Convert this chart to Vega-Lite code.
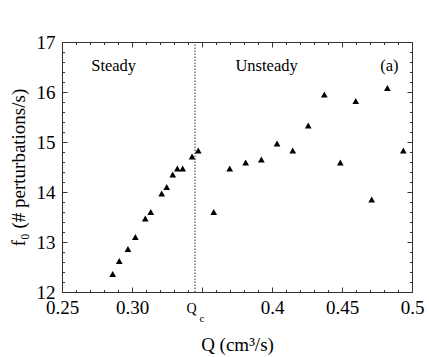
{
  "$schema": "https://vega.github.io/schema/vega-lite/v6.json",
  "width": 350,
  "height": 250,
  "autosize": {"type": "none"},
  "padding": {"left": 62, "top": 42, "right": 17, "bottom": 65},
  "background": "white",
  "config": {
    "view": {"stroke": "#333", "strokeWidth": 1},
    "font": "Liberation Serif",
    "axis": {
      "domain": false,
      "grid": false,
      "tickColor": "#333",
      "labelFont": "Liberation Serif",
      "titleFont": "Liberation Serif",
      "labelColor": "black",
      "titleColor": "black",
      "labelFontSize": 19,
      "titleFontSize": 19,
      "titleFontWeight": "normal"
    }
  },
  "datasets": {
    "points": [
      {"Q": 0.2862, "f": 12.36},
      {"Q": 0.2909, "f": 12.62},
      {"Q": 0.2971, "f": 12.86},
      {"Q": 0.3024, "f": 13.10},
      {"Q": 0.3095, "f": 13.47},
      {"Q": 0.3134, "f": 13.60},
      {"Q": 0.3212, "f": 13.97},
      {"Q": 0.3248, "f": 14.10},
      {"Q": 0.3291, "f": 14.35},
      {"Q": 0.3324, "f": 14.47},
      {"Q": 0.3362, "f": 14.47},
      {"Q": 0.3429, "f": 14.71},
      {"Q": 0.3473, "f": 14.83},
      {"Q": 0.3584, "f": 13.60},
      {"Q": 0.3698, "f": 14.47},
      {"Q": 0.3812, "f": 14.59},
      {"Q": 0.3924, "f": 14.65},
      {"Q": 0.4036, "f": 14.97},
      {"Q": 0.4148, "f": 14.83},
      {"Q": 0.4259, "f": 15.33},
      {"Q": 0.4374, "f": 15.95},
      {"Q": 0.4488, "f": 14.59},
      {"Q": 0.4598, "f": 15.82},
      {"Q": 0.4712, "f": 13.85},
      {"Q": 0.4824, "f": 16.08},
      {"Q": 0.4938, "f": 14.83}
    ],
    "notes": [
      {"Q": 0.2869, "f": 16.53, "t": "Steady"},
      {"Q": 0.3961, "f": 16.53, "t": "Unsteady"},
      {"Q": 0.4839, "f": 16.53, "t": "(a)"}
    ],
    "qc": [{"Q": 0.345, "f0": 12, "f1": 17}],
    "qlabel": [{"Q": 0.3426, "f": 12, "t": "Q"}],
    "clabel": [{"Q": 0.3500, "f": 12, "t": "c"}]
  },
  "layer": [
    {
      "data": {"name": "points"},
      "mark": {"type": "point", "shape": "triangle-up", "filled": true, "color": "black", "size": 45, "opacity": 1},
      "encoding": {
        "x": {
          "field": "Q", "type": "quantitative",
          "scale": {"domain": [0.25, 0.5], "nice": false, "zero": false},
          "axis": {
            "orient": "bottom",
            "values": [0.25, 0.3, 0.35, 0.4, 0.45, 0.5],
            "tickSize": -5,
            "labelPadding": 11,
            "labelExpr": "datum.value == 0.25 ? '0.25' : datum.value == 0.3 ? '0.30' : datum.value == 0.4 ? '0.4' : datum.value == 0.45 ? '0.45' : datum.value == 0.5 ? '0.5' : ''",
            "labelFlush": false,
            "labelOverlap": false,
            "title": "Q (cm³/s)",
            "titlePadding": 18
          }
        },
        "y": {
          "field": "f", "type": "quantitative",
          "scale": {"domain": [12, 17], "nice": false, "zero": false},
          "axis": {
            "orient": "left",
            "values": [12, 13, 14, 15, 16, 17],
            "tickSize": -5,
            "labelPadding": 12,
            "labelFlush": false,
            "labelOverlap": false,
            "title": "f₀ (# perturbations/s)",
            "titlePadding": 8
          }
        }
      }
    },
    {
      "data": {"name": "notes"},
      "mark": {"type": "text", "fontSize": 16.5, "font": "Liberation Serif", "color": "black", "baseline": "middle", "align": "center"},
      "encoding": {
        "x": {
          "field": "Q", "type": "quantitative",
          "scale": {"domain": [0.25, 0.5], "nice": false, "zero": false},
          "axis": {"orient": "top", "values": [0.25, 0.3, 0.35, 0.4, 0.45, 0.5], "tickSize": -5, "labels": false, "title": null}
        },
        "y": {
          "field": "f", "type": "quantitative",
          "scale": {"domain": [12, 17], "nice": false, "zero": false},
          "axis": {"orient": "right", "values": [12, 13, 14, 15, 16, 17], "tickSize": -5, "labels": false, "title": null}
        },
        "text": {"field": "t"}
      }
    },
    {
      "data": {"name": "qlabel"},
      "mark": {"type": "text", "fontSize": 14, "font": "Liberation Serif", "color": "black", "baseline": "alphabetic", "align": "center", "dy": 21},
      "encoding": {
        "x": {
          "field": "Q", "type": "quantitative",
          "scale": {"domain": [0.25, 0.5], "nice": false, "zero": false},
          "axis": {"orient": "bottom", "values": [0.25,0.26,0.27,0.28,0.29,0.3,0.31,0.32,0.33,0.34,0.35,0.36,0.37,0.38,0.39,0.4,0.41,0.42,0.43,0.44,0.45,0.46,0.47,0.48,0.49,0.5], "tickSize": -2.5, "labels": false, "title": null}
        },
        "y": {
          "field": "f", "type": "quantitative",
          "scale": {"domain": [12, 17], "nice": false, "zero": false},
          "axis": {"orient": "left", "values": [12,12.2,12.4,12.6,12.8,13,13.2,13.4,13.6,13.8,14,14.2,14.4,14.6,14.8,15,15.2,15.4,15.6,15.8,16,16.2,16.4,16.6,16.8,17], "tickSize": -2.5, "labels": false, "title": null}
        },
        "text": {"field": "t"}
      }
    },
    {
      "data": {"name": "clabel"},
      "mark": {"type": "text", "fontSize": 11, "font": "Liberation Serif", "color": "black", "baseline": "alphabetic", "align": "center", "dy": 30},
      "encoding": {
        "x": {
          "field": "Q", "type": "quantitative",
          "scale": {"domain": [0.25, 0.5], "nice": false, "zero": false},
          "axis": {"orient": "top", "values": [0.25,0.26,0.27,0.28,0.29,0.3,0.31,0.32,0.33,0.34,0.35,0.36,0.37,0.38,0.39,0.4,0.41,0.42,0.43,0.44,0.45,0.46,0.47,0.48,0.49,0.5], "tickSize": -2.5, "labels": false, "title": null}
        },
        "y": {
          "field": "f", "type": "quantitative",
          "scale": {"domain": [12, 17], "nice": false, "zero": false},
          "axis": {"orient": "right", "values": [12,12.2,12.4,12.6,12.8,13,13.2,13.4,13.6,13.8,14,14.2,14.4,14.6,14.8,15,15.2,15.4,15.6,15.8,16,16.2,16.4,16.6,16.8,17], "tickSize": -2.5, "labels": false, "title": null}
        },
        "text": {"field": "t"}
      }
    },
    {
      "data": {"name": "qc"},
      "mark": {"type": "rule", "color": "#333", "strokeWidth": 1, "strokeDash": [1.5, 1.5]},
      "encoding": {
        "x": {"field": "Q", "type": "quantitative", "scale": {"domain": [0.25, 0.5], "nice": false, "zero": false}, "axis": null},
        "y": {"field": "f0", "type": "quantitative", "scale": {"domain": [12, 17], "nice": false, "zero": false}, "axis": null},
        "y2": {"field": "f1"}
      }
    }
  ],
  "resolve": {"axis": {"x": "independent", "y": "independent"}}
}
